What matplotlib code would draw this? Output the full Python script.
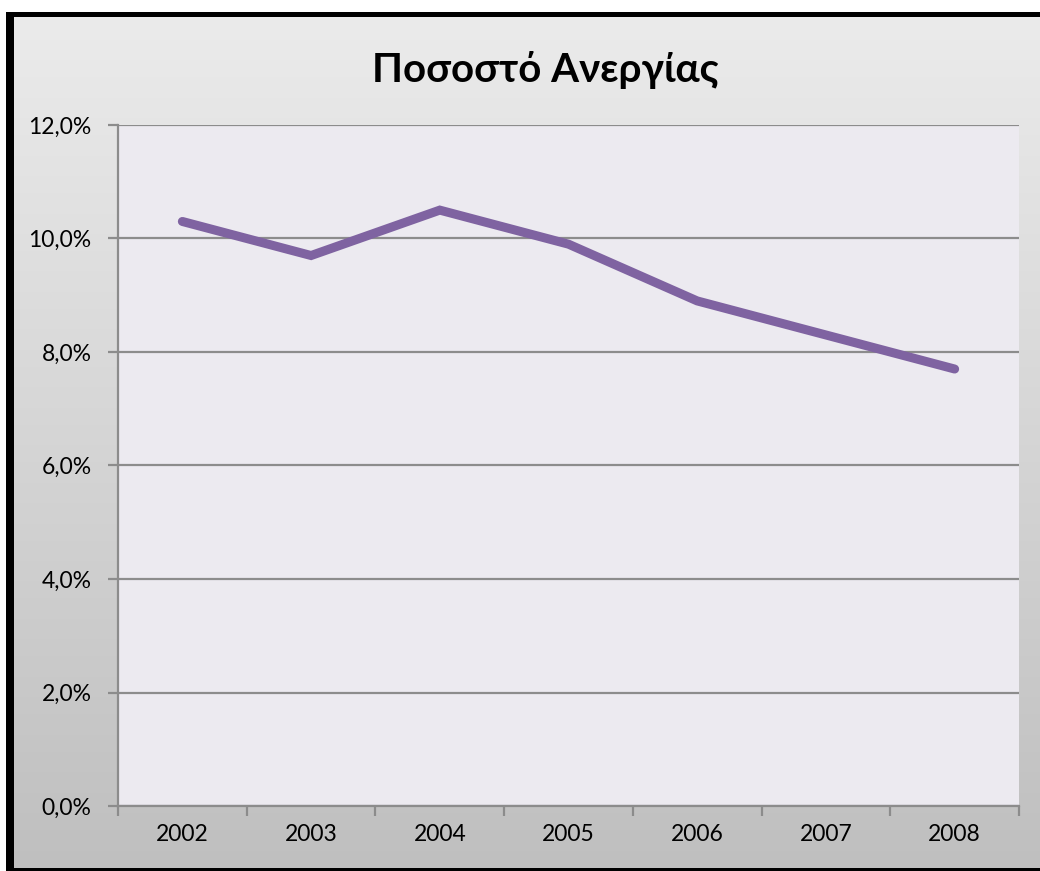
import numpy as np
import matplotlib
matplotlib.use("Agg")
import matplotlib.pyplot as plt
from matplotlib.patches import Rectangle
from matplotlib.ticker import FuncFormatter, FixedLocator, NullFormatter

years = ["2002", "2003", "2004", "2005", "2006", "2007", "2008"]
rate = [10.3, 9.7, 10.5, 9.9, 8.9, 8.3, 7.7]
title = "Ποσοστό Ανεργίας"

W, H = 1040, 871
fig = plt.figure(figsize=(W / 100, H / 100), dpi=100)
plt.rcParams["font.family"] = ["Lato", "DejaVu Sans"]

# Chart-area background: vertical gradient from light to mid gray
bg = fig.add_axes([0, 0, 1, 1], zorder=0)
grad = np.linspace(0, 1, 256)[:, None]
top = np.array([236, 236, 236]) / 255
bot = np.array([191, 191, 191]) / 255
img = top[None, None, :] * (1 - grad[..., None]) + bot[None, None, :] * grad[..., None]
img = np.repeat(img, 2, axis=1)
bg.imshow(img, aspect="auto", extent=[0, 1, 0, 1], origin="upper")
bg.set_xlim(0, 1)
bg.set_ylim(0, 1)
bg.axis("off")

# White margin above the frame, thick black edges left/top, thin at bottom
def px_rect(x0, y0, x1, y1, color):
    bg.add_patch(Rectangle((x0 / W, 1 - y1 / H), (x1 - x0) / W, (y1 - y0) / H,
                           facecolor=color, edgecolor="none", transform=bg.transAxes, zorder=3))

px_rect(0, 0, W, 12, "white")
px_rect(0, 0, 6, H, "white")
px_rect(6, 12, W, 17, "black")
px_rect(6, 12, 14, H, "black")
px_rect(6, 868, W, H, "black")

# Plot area
L, R, T, B = 118, 1019, 125, 806
ax = fig.add_axes([L / W, 1 - B / H, (R - L) / W, (B - T) / H], zorder=2)
ax.set_facecolor("#ECEAF0")

x = np.arange(len(years))
ax.plot(x, rate, color="#7F63A1", lw=6.5, solid_capstyle="round",
        solid_joinstyle="miter", zorder=3)

ax.set_xlim(-0.5, len(years) - 0.5)
ax.set_ylim(0, 12)
ax.set_yticks(np.arange(0, 12.1, 2))
ax.yaxis.set_major_formatter(FuncFormatter(lambda v, p: f"{v:.1f}%".replace(".", ",")))
ax.yaxis.grid(True, color="#8C8C8C", lw=1.6)
ax.set_axisbelow(True)

ax.xaxis.set_major_locator(FixedLocator(np.arange(-0.5, len(years), 1)))
ax.xaxis.set_major_formatter(NullFormatter())
ax.xaxis.set_minor_locator(FixedLocator(x))
ax.set_xticklabels(years, minor=True)
ax.tick_params(axis="x", which="major", length=7, width=1.6, color="#8C8C8C", direction="out")
ax.tick_params(axis="x", which="minor", length=0, pad=13, labelsize=16.5, labelcolor="black")
ax.tick_params(axis="y", length=7, width=1.6, color="#8C8C8C", pad=12, labelsize=16.5)

for side in ["top", "right"]:
    ax.spines[side].set_visible(False)
for side in ["left", "bottom"]:
    ax.spines[side].set_color("#8C8C8C")
    ax.spines[side].set_linewidth(1.6)

fig.text(545 / W, 1 - 70 / H, title, ha="center", va="center",
         fontsize=29, fontweight="bold", color="black", zorder=5)

fig.savefig("out.png", dpi=100)
